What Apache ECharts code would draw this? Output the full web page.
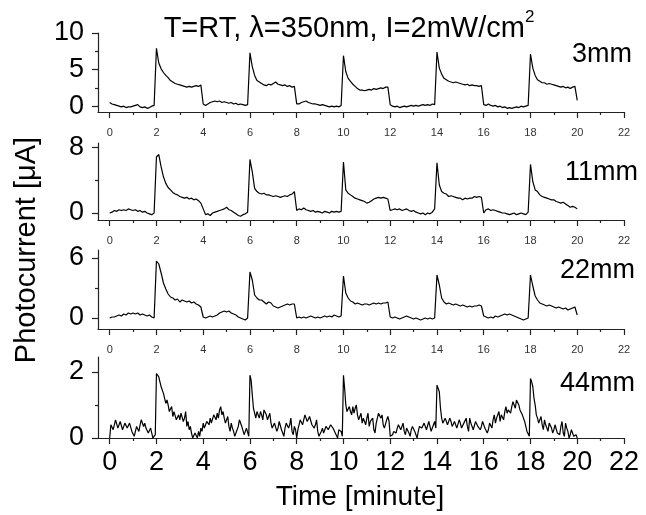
<!DOCTYPE html>
<html><head><meta charset="utf-8">
<script src="https://cdn.jsdelivr.net/npm/echarts@6/dist/echarts.min.js"></script>
<style>html,body{margin:0;padding:0;background:#fff}#c{width:646px;height:515px}</style>
</head><body><div id="c"></div>
<script>
// time sampling (minutes) per panel
const steps = [0.1, 0.1, 0.1, 0.05];
const xMajor = [0,2,4,6,8,10,12,14,16,18,20,22];
const xMinor = [1,3,5,7,9,11,13,15,17,19,21];
const panelLabels = ['3mm','11mm','22mm','44mm'];
const yMajor = [[0,5,10],[0,8],[0,6],[0,2]];
const yMinor = [[2.5,7.5],[4],[3],[1]];
const yRange = [[-0.8,10],[-0.85,8.5],[-1.1,6.8],[0,2.45]];

const s3mm = [
0.5,0.3,0.2,0.1,0.0,-0.1,0.0,-0.2,-0.1,-0.1,0.0,0.1,0.2,-0.1,-0.2,-0.1,-0.3,-0.2,0.0,0.1,
7.9,5.9,5.1,4.6,4.2,3.9,3.5,3.3,3.1,3.0,2.9,2.8,2.7,2.6,2.7,2.6,2.7,2.8,2.7,2.9,
0.3,0.1,0.3,0.5,0.6,0.7,0.6,0.7,0.5,0.6,0.5,0.4,0.5,0.3,0.4,0.2,0.3,0.2,0.1,0.2,
7.3,5.4,4.2,3.5,3.3,3.1,2.9,2.8,3.0,2.9,3.1,3.3,3.0,2.9,2.8,2.9,2.7,2.8,2.6,2.7,
0.3,0.3,0.5,0.6,0.7,0.5,0.4,0.3,0.3,0.2,0.1,0.2,0.1,0.0,-0.1,0.0,-0.1,0.0,-0.1,0.1,
6.9,4.7,3.8,3.4,3.0,2.7,2.4,2.2,2.2,2.1,2.2,2.3,2.2,2.4,2.3,2.4,2.5,2.4,2.6,2.6,
0.2,0.0,-0.1,0.0,-0.2,-0.1,0.0,-0.1,0.0,0.1,0.0,0.1,0.0,0.1,0.2,0.1,0.2,0.1,0.3,0.2,
7.4,5.2,4.4,3.8,3.6,3.4,3.3,3.2,3.3,3.2,3.1,3.0,2.9,3.0,2.8,2.9,2.8,2.8,2.7,2.8,
0.2,0.1,0.3,0.1,0.0,0.1,-0.1,0.0,-0.2,-0.1,-0.3,-0.2,-0.3,-0.2,-0.1,-0.2,0.0,-0.1,0.0,0.1,
7.1,5.2,4.2,3.6,3.4,3.2,3.2,3.0,3.1,3.0,2.9,2.8,2.7,2.6,2.7,2.5,2.6,2.4,2.6,2.7,
0.8];

const s11mm = [
0.0,0.1,0.3,0.2,0.4,0.3,0.4,0.3,0.5,0.4,0.3,0.4,0.2,0.3,0.1,0.2,0.0,-0.1,-0.2,0.0,
6.8,7.1,5.6,4.4,3.6,3.1,2.8,2.5,2.3,2.2,2.0,1.9,1.8,1.9,1.7,1.8,1.6,1.7,1.5,1.2,
0.5,-0.2,-0.1,-0.3,0.0,0.1,0.2,0.3,0.4,0.5,0.7,0.4,0.3,0.1,-0.1,-0.3,-0.4,-0.2,-0.1,0.1,
6.5,5.0,3.0,2.6,2.4,2.3,2.4,2.2,2.2,2.1,2.0,2.1,2.0,1.9,2.0,2.1,2.0,2.2,2.3,2.6,
0.3,0.5,0.4,0.6,0.4,0.3,0.2,0.3,0.1,0.2,0.1,0.0,0.2,0.1,0.0,0.2,0.1,0.2,0.1,0.2,
6.2,2.8,2.4,2.2,2.0,1.8,1.7,1.6,1.5,1.4,1.2,1.3,1.5,1.7,1.8,1.9,1.8,1.9,1.8,1.7,
0.3,0.4,0.5,0.4,0.5,0.3,0.4,0.5,0.3,0.2,0.3,0.1,0.0,-0.1,0.0,-0.2,0.0,-0.1,0.1,0.5,
6.1,3.4,2.6,2.4,2.3,2.0,2.1,2.0,1.9,1.8,1.8,1.6,1.8,1.7,1.8,1.8,2.0,1.9,2.0,1.9,
0.0,0.4,0.5,0.3,0.4,0.3,0.2,0.1,0.0,0.0,-0.1,-0.2,-0.1,0.0,-0.2,-0.1,0.0,-0.1,-0.2,0.1,
5.9,3.8,2.8,2.6,2.2,2.0,1.9,1.8,1.7,1.6,1.6,1.4,1.3,1.2,1.3,1.1,0.9,0.7,0.8,0.7,
0.5];

const s22mm = [
0.0,0.1,0.1,0.2,0.3,0.2,0.4,0.3,0.5,0.4,0.5,0.4,0.5,0.3,0.4,0.3,0.2,0.3,0.1,0.0,
5.7,5.4,4.5,3.5,2.9,2.4,2.1,2.0,1.8,1.9,1.6,1.8,1.7,1.6,1.7,1.5,1.6,1.4,1.3,1.1,
0.1,0.0,0.1,0.2,0.1,0.2,0.3,0.5,0.6,0.7,0.6,0.7,0.5,0.4,0.3,0.1,0.0,-0.1,-0.2,0.0,
4.6,3.8,2.3,2.0,1.8,1.8,1.6,1.4,1.6,1.5,1.2,1.1,1.0,1.1,1.2,1.3,1.4,1.3,1.4,1.4,
0.0,0.1,0.0,0.1,0.0,0.1,0.2,0.1,0.0,0.1,0.0,0.1,0.2,0.1,0.2,0.1,0.3,0.2,0.1,0.2,
4.2,2.5,2.0,1.7,1.6,1.4,1.5,1.4,1.3,1.4,1.4,1.3,1.4,1.5,1.4,1.5,1.4,1.5,1.5,1.6,
0.1,0.0,0.1,0.0,-0.1,0.0,0.1,0.2,0.1,0.0,-0.1,0.0,-0.1,-0.2,-0.1,0.0,-0.1,0.0,-0.1,0.0,
4.3,3.3,2.0,1.6,1.4,1.5,1.4,1.3,1.4,1.3,1.2,1.3,1.2,1.1,1.2,1.1,1.2,1.2,1.3,1.2,
0.2,0.1,0.0,0.1,0.0,0.2,0.1,0.2,0.3,0.4,0.3,0.4,0.3,0.2,0.1,0.0,-0.1,-0.2,-0.1,0.0,
4.3,3.2,2.2,1.8,1.5,1.4,1.3,1.2,1.3,1.2,1.1,1.0,1.1,1.0,0.9,1.0,0.8,0.9,1.0,1.1,
0.3];

const s44mm = [
0.0,0.4,0.45,0.25,0.3,0.55,0.5,0.3,0.35,0.5,0.45,0.25,0.3,0.45,0.5,0.3,0.35,0.45,0.4,0.2,
0.25,0.05,0.1,0.35,0.3,0.2,0.4,0.55,0.6,0.35,0.45,0.3,0.35,0.15,0.2,0.3,0.15,0.0,0.05,0.1,
1.95,2.0,1.85,1.7,1.55,1.6,1.35,1.2,1.05,1.15,1.0,0.8,0.85,0.95,0.65,0.8,0.75,0.55,0.6,0.7,
0.55,0.75,0.7,0.5,0.6,0.8,0.35,0.5,0.25,0.35,0.15,0.0,0.05,0.15,0.1,0.0,0.2,0.05,0.3,0.2,
0.45,0.3,0.35,0.5,0.55,0.4,0.6,0.45,0.5,0.7,0.65,0.55,0.75,0.6,0.85,0.95,0.7,0.8,0.6,0.45,
0.5,0.65,0.35,0.2,0.45,0.3,0.2,0.05,0.1,0.25,0.35,0.55,0.5,0.35,0.3,0.1,0.1,0.3,0.25,0.05,
1.9,1.75,1.3,0.9,0.75,0.6,0.8,0.7,0.6,0.8,0.7,0.55,0.85,0.9,0.7,0.55,0.55,0.75,0.45,0.3,
0.25,0.45,0.4,0.2,0.3,0.5,0.45,0.25,0.15,0.05,0.3,0.45,0.5,0.3,0.4,0.6,0.2,0.1,0.35,0.25,
0.0,0.25,0.4,0.55,0.6,0.4,0.55,0.7,0.7,0.5,0.5,0.65,0.65,0.4,0.45,0.3,0.4,0.55,0.2,0.05,
0.05,0.2,0.3,0.15,0.2,0.35,0.4,0.25,0.2,0.4,0.45,0.3,0.3,0.15,0.1,0.0,0.25,0.3,0.2,0.05,
1.9,1.5,1.0,0.8,0.85,0.95,0.8,0.7,0.95,0.75,0.9,1.0,0.7,0.55,0.6,0.75,0.45,0.6,0.55,0.4,
0.6,0.75,0.35,0.5,0.5,0.6,0.25,0.15,0.45,0.6,0.75,0.8,0.6,0.7,0.4,0.3,0.3,0.55,0.65,0.5,
0.05,0.0,0.1,0.2,0.25,0.15,0.3,0.4,0.4,0.25,0.35,0.45,0.2,0.1,0.3,0.35,0.15,0.05,0.25,0.35,
0.35,0.2,0.1,0.0,0.2,0.35,0.4,0.3,0.3,0.45,0.45,0.25,0.3,0.5,0.35,0.2,0.2,0.4,0.5,0.3,
1.6,1.65,1.4,0.9,0.6,0.45,0.5,0.6,0.55,0.4,0.45,0.6,0.5,0.35,0.4,0.5,0.55,0.3,0.35,0.55,
0.45,0.3,0.3,0.45,0.5,0.6,0.35,0.2,0.6,0.45,0.4,0.25,0.3,0.5,0.55,0.35,0.4,0.25,0.35,0.5,
0.45,0.3,0.3,0.15,0.25,0.45,0.4,0.3,0.55,0.7,0.45,0.6,0.65,0.8,0.5,0.7,0.7,0.55,0.8,0.95,
0.75,0.85,0.9,0.75,0.95,1.1,1.05,0.9,1.15,1.2,1.0,0.85,0.85,0.7,0.6,0.5,0.35,0.2,0.15,0.05,
1.8,1.7,1.55,1.2,1.0,0.7,0.6,0.45,0.5,0.65,0.4,0.25,0.55,0.4,0.35,0.2,0.45,0.5,0.3,0.15,
0.25,0.4,0.4,0.15,0.2,0.1,0.35,0.5,0.15,0.05,0.45,0.3,0.2,0.0,0.1,0.25,0.15,0.05,0.05,0.1,
0.0];

const seriesVals = [s3mm, s11mm, s22mm, s44mm];

const FONT = '"Liberation Sans", Arial, sans-serif';
const gridTops = [33, 143, 250, 357];
const gridHeights = [79, 77, 79, 81];
const AX = '#222';

const grids = [], xAxes = [], yAxes = [], series = [];
for (let p = 0; p < 4; p++) {
  grids.push({left: 98, width: 526, top: gridTops[p], height: gridHeights[p], containLabel: false});
  const last = p === 3;
  xAxes.push({
    type: 'value', gridIndex: p, min: -0.5, max: 22, position: 'bottom',
    axisLine: {show: true, onZero: false, lineStyle: {color: AX, width: 1.2}},
    axisTick: {show: true, length: 6, customValues: xMajor, lineStyle: {color: AX, width: 1.2}},
    axisLabel: {show: true, customValues: xMajor, margin: last ? 11 : 15,
      fontSize: last ? 27 : 11, color: last ? '#000' : '#333', fontFamily: FONT},
    splitLine: {show: false}
  });
  xAxes.push({
    type: 'value', gridIndex: p, min: -0.5, max: 22, position: 'bottom',
    axisLine: {show: false, onZero: false},
    axisTick: {show: true, length: 3, customValues: xMinor, lineStyle: {color: AX, width: 1.2}},
    axisLabel: {show: false}, splitLine: {show: false}
  });
  yAxes.push({
    type: 'value', gridIndex: p, min: yRange[p][0], max: yRange[p][1], position: 'left',
    axisLine: {show: true, onZero: false, lineStyle: {color: AX, width: 1.2}},
    axisTick: {show: true, length: 6, customValues: yMajor[p], lineStyle: {color: AX, width: 1.2}},
    axisLabel: {show: true, customValues: yMajor[p], margin: 14, fontSize: 27, color: '#000', fontFamily: FONT},
    splitLine: {show: false}
  });
  yAxes.push({
    type: 'value', gridIndex: p, min: yRange[p][0], max: yRange[p][1], position: 'left',
    axisLine: {show: false, onZero: false},
    axisTick: {show: true, length: 3, customValues: yMinor[p], lineStyle: {color: AX, width: 1.2}},
    axisLabel: {show: false}, splitLine: {show: false}
  });
  series.push({
    type: 'line', xAxisIndex: 2 * p, yAxisIndex: 2 * p,
    data: seriesVals[p].map((v, i) => [+(i * steps[p]).toFixed(2), v]),
    showSymbol: false, symbol: 'none', animation: false,
    lineStyle: {color: '#000', width: 1.2}
  });
}

const labelPos = [[572, 55], [565, 173], [560, 271], [560, 384]];
const graphic = [
  {type: 'text', x: 349, y: 29, style: {
    text: '{a|T=RT, λ=350nm, I=2mW/cm}{s|2}', align: 'center', verticalAlign: 'middle',
    rich: {a: {fontSize: 29, lineHeight: 40, fontFamily: FONT, fill: '#000'},
           s: {fontSize: 17, lineHeight: 17, verticalAlign: 'top', fontFamily: FONT, fill: '#000'}}}},
  {type: 'text', x: 27, y: 250, rotation: Math.PI / 2, style: {
    text: 'Photocurrent [μA]', align: 'center', verticalAlign: 'middle', fontSize: 29, fontFamily: FONT, fill: '#000'}},
  {type: 'text', x: 360, y: 497, style: {
    text: 'Time [minute]', align: 'center', verticalAlign: 'middle', fontSize: 28, fontFamily: FONT, fill: '#000'}}
];
panelLabels.forEach((t, i) => graphic.push({type: 'text', x: labelPos[i][0], y: labelPos[i][1], style: {
  text: t, align: 'left', verticalAlign: 'middle', fontSize: 27, fontFamily: FONT, fill: '#000'}}));

const chart = echarts.init(document.getElementById('c'), null, {renderer: 'canvas'});
chart.setOption({
  animation: false, backgroundColor: '#fff',
  grid: grids, xAxis: xAxes, yAxis: yAxes, series: series, graphic: graphic
});
</script></body></html>
